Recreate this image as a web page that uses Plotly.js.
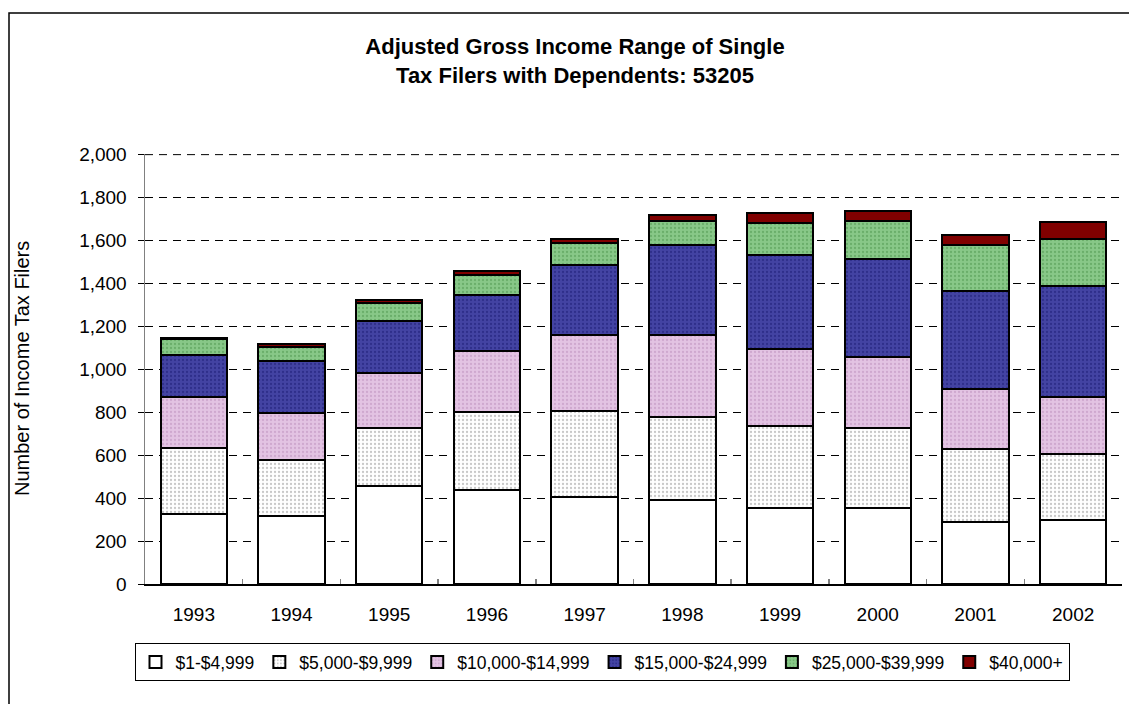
<!DOCTYPE html>
<html>
<head>
<meta charset="utf-8">
<script src="https://cdn.plot.ly/plotly-3.0.1.min.js"></script>
<style>
html,body{margin:0;padding:0;background:#fff;}
#chart{width:1129px;height:704px;}
</style>
</head>
<body>
<div id="chart"></div>
<script>
const years = ['1993','1994','1995','1996','1997','1998','1999','2000','2001','2002'];
const seriesNames = ['$1-$4,999','$5,000-$9,999','$10,000-$14,999','$15,000-$24,999','$25,000-$39,999','$40,000+'];
const s1 = [325,315,455,436,406,391,352,352,287,298];
const s2 = [307,262,270,363,402,389,382,373,344,307];
const s3 = [240,220,260,287,353,381,360,333,278,267];
const s4 = [194,243,242,261,325,419,437,458,456,514];
const s5 = [73,65,84,91,101,110,151,174,213,220];
const s6 = [8,12,10,19,20,29,48,49,48,79];
const yTicks = [0,200,400,600,800,1000,1200,1400,1600,1800,2000];
const yMax = 2000;
const yTitle = 'Number of Income Tax Filers';
const chartTitle = '<b>Adjusted Gross Income Range of Single<br>Tax Filers with Dependents: 53205</b>';

const allSeries = [s1,s2,s3,s4,s5,s6];
const fills = ['#FFFFFF','#FFFFFF','#E3C3E3','#4343A3','#88C888','#800000'];
const dots  = ['#FFFFFF','#C8C8C8','#CFA8CF','#2E2E8A','#6AAE6A','#800000'];
const shapesP = ['','.','.','.','.',''];

const FONT = 'Liberation Sans, Arial, sans-serif';

const traces = allSeries.map((vals,i)=>({
  type:'bar',
  name: seriesNames[i],
  x: years,
  y: vals,
  marker:{
    color: fills[i],
    line:{color:'#000000', width:2},
    pattern:{shape: shapesP[i], fgcolor: dots[i], bgcolor: fills[i], size:4, solidity:0.25}
  },
  hoverinfo:'x+y+name'
}));

const L = 145, R = 1122, T = 154, B = 584;
const pw = R - L, ph = B - T;
const px = v => (v - L) / pw;
const py = v => (B - v) / ph;

const layout = {
  width:1129, height:704,
  margin:{l:L, r:1129-R, t:T, b:704-B, pad:0},
  paper_bgcolor:'#FFFFFF',
  plot_bgcolor:'#FFFFFF',
  barmode:'stack',
  bargap:0.32,
  font:{family:FONT, size:19, color:'#000000'},
  title:{
    text: chartTitle,
    font:{family:FONT, size:22, color:'#000000'},
    xref:'container', x:575/1129, xanchor:'center',
    yref:'container', y:1-54/704, yanchor:'middle'
  },
  xaxis:{
    type:'category',
    showline:true, linecolor:'#000000', linewidth:1.5,
    ticks:'inside', tickson:'boundaries', ticklen:5, tickcolor:'#808080', tickwidth:1.5,
    tickfont:{family:FONT, size:19, color:'#000000'},
    ticklabelstandoff:13,
    showgrid:false, zeroline:false,
    fixedrange:true
  },
  yaxis:{
    range:[0,2003],
    tickmode:'array', tickvals:yTicks,
    tickformat:',d',
    showline:true, linecolor:'#808080', linewidth:1.5,
    ticks:'outside', ticklen:6, tickcolor:'#000000', tickwidth:1,
    tickfont:{family:FONT, size:19, color:'#000000'},
    ticklabelstandoff:7,
    showgrid:true, gridcolor:'#000000', gridwidth:1, griddash:'8px,6px',
    zeroline:false,
    fixedrange:true
  },
  annotations:[
    {text:yTitle, xref:'paper', yref:'paper', x:px(22), y:py(369), xanchor:'center', yanchor:'middle',
     textangle:-90, showarrow:false, font:{family:FONT, size:20, color:'#000000'}}
  ],
  showlegend:true,
  legend:{
    orientation:'h',
    x:px(602), xanchor:'center',
    y:py(643), yanchor:'top',
    bordercolor:'#000000', borderwidth:1,
    bgcolor:'#FFFFFF',
    font:{family:FONT, size:17.5, color:'#000000'},
    traceorder:'normal',
    itemwidth:30
  },
  shapes:[
    {type:'rect', xref:'paper', yref:'paper', x0:px(9), x1:px(1160), y0:py(740), y1:py(13),
     line:{color:'#000000', width:1.5}, fillcolor:'rgba(0,0,0,0)', layer:'below'},
    {type:'line', xref:'paper', yref:'y', x0:0, x1:1, y0:yMax, y1:yMax,
     line:{color:'#000000', width:1, dash:'8px,6px'}, layer:'below'}
  ]
};

Plotly.newPlot('chart', traces, layout, {displayModeBar:false, staticPlot:true});
</script>
</body>
</html>
